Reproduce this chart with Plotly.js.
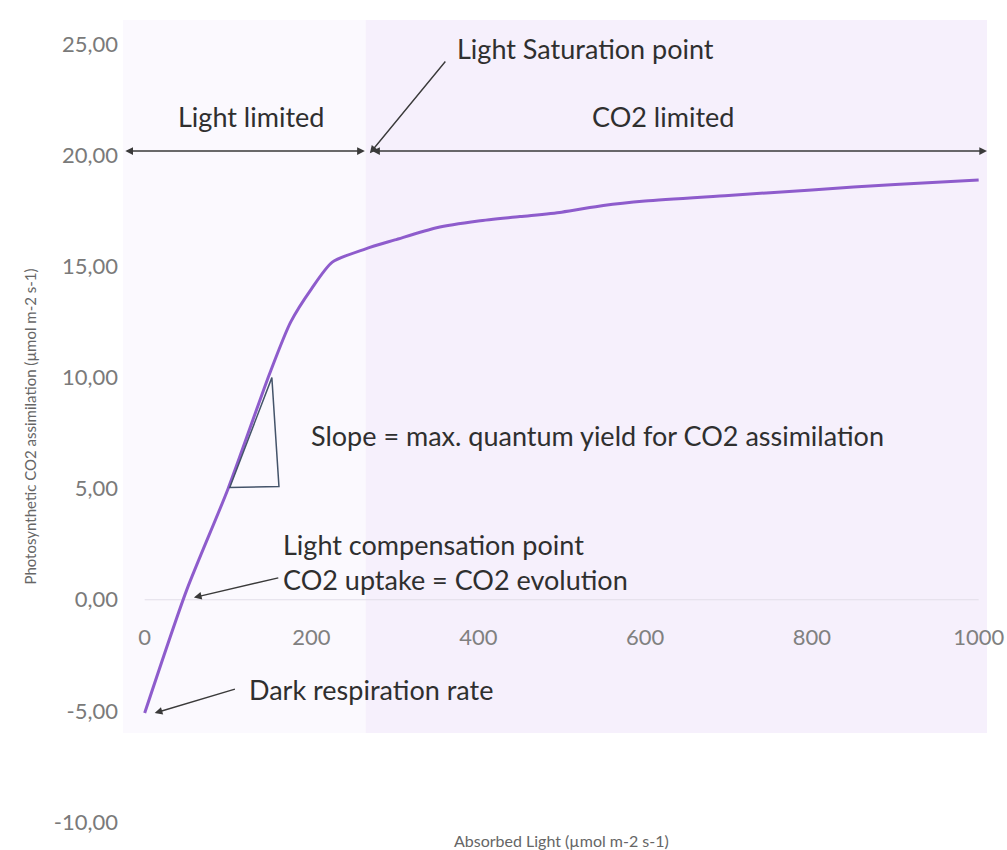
<!DOCTYPE html>
<html>
<head>
<meta charset="utf-8">
<script src="https://cdn.plot.ly/plotly-3.0.1.min.js"></script>
<style>
  html, body { margin: 0; padding: 0; background: #ffffff; }
  #chart { width: 1007px; height: 850px; }
</style>
</head>
<body>
<div id="chart"></div>
<script>
// ---- Data ----
var lightX = [0, 50, 100, 150, 175, 200, 225, 265, 300, 350, 400, 450, 500, 550, 600, 700, 800, 900, 1000];
var co2Y   = [-5.1, 0.4, 5.0, 10.2, 12.5, 14.0, 15.2, 15.8, 16.2, 16.75, 17.05, 17.25, 17.45, 17.75, 17.95, 18.2, 18.45, 18.7, 18.9];

var xTickVals = [0, 200, 400, 600, 800, 1000];
var xTickText = ["0", "200", "400", "600", "800", "1000"];
var yTickVals = [-10, -5, 0, 5, 10, 15, 20, 25];
var yTickText = ["-10,00", "-5,00", "0,00", "5,00", "10,00", "15,00", "20,00", "25,00"];

var xRange = [-26, 1010];
var yRange = [-10.5, 26.1];
var saturationX = 265;      // boundary between light limited / CO2 limited
var shadedBottom = -6.0;

var textColor = "#2f2f2f";
var arrowColor = "#3a3a3a";
var font = "Lato, 'Open Sans', sans-serif";

var trace = {
  type: "scatter",
  mode: "lines",
  x: lightX,
  y: co2Y,
  line: { color: "#8e5ccc", width: 3, shape: "spline", smoothing: 0.7 },
  hoverinfo: "x+y",
  showlegend: false
};

function txt(text, x, y, xanchor) {
  return {
    xref: "x", yref: "y", x: x, y: y, text: text, showarrow: false,
    xanchor: xanchor || "center", yanchor: "middle",
    font: { family: font, size: 27, color: textColor }
  };
}
function arrow(x, y, ax, ay, both) {
  return {
    xref: "x", yref: "y", axref: "x", ayref: "y",
    x: x, y: y, ax: ax, ay: ay, text: "", showarrow: true,
    arrowhead: 2, arrowsize: 1.1, arrowwidth: 1.4, arrowcolor: arrowColor,
    arrowside: both ? "end+start" : "end",
    startarrowhead: 2, startarrowsize: 1.1, standoff: 0, startstandoff: 0
  };
}

var annotations = [
  txt("Light Saturation point", 528, 24.8),
  txt("Light limited", 128, 21.75),
  txt("CO2 limited", 622, 21.75),
  txt("Slope = max. quantum yield for CO2 assimilation", 197, 7.4, "left"),
  txt("Light compensation point", 163, 2.5, "left"),
  txt("CO2 uptake = CO2 evolution", 163, 0.9, "left"),
  txt("Dark respiration rate", 123, -4.05, "left"),
  arrow(264, 20.2, -25, 20.2, true),
  arrow(1010, 20.2, 271, 20.2, true),
  arrow(270, 20.1, 362, 24.3, false),
  arrow(59, 0.1, 162, 1.0, false),
  arrow(12, -5.1, 110, -4.0, false),
  {
    xref: "paper", yref: "paper", x: 0.507, y: -0.009, text: "Absorbed Light (µmol m-2 s-1)",
    showarrow: false, xanchor: "center", yanchor: "middle",
    font: { family: font, size: 16, color: "#666666" }
  }
];

var shapes = [
  { type: "rect", layer: "below", xref: "x", yref: "y", x0: xRange[0], x1: saturationX, y0: shadedBottom, y1: yRange[1],
    fillcolor: "#fbf9fe", line: { width: 0 } },
  { type: "rect", layer: "below", xref: "x", yref: "y", x0: saturationX, x1: xRange[1], y0: shadedBottom, y1: yRange[1],
    fillcolor: "#f6f0fc", line: { width: 0 } },
  { type: "line", layer: "below", xref: "x", yref: "y", x0: 0, x1: 1000, y0: 0, y1: 0,
    line: { color: "#e2dee8", width: 1.2 } },
  // slope triangle
  { type: "path", xref: "x", yref: "y", path: "M 102,5.05 L 152.5,10.0 L 161,5.1 Z",
    line: { color: "#44546a", width: 1.5 }, fillcolor: "rgba(0,0,0,0)" }
];

var xPos = (0 - yRange[0]) / (yRange[1] - yRange[0]);

var layout = {
  width: 1007, height: 850,
  margin: { l: 123, r: 20, t: 20, b: 17, pad: 0 },
  paper_bgcolor: "#ffffff",
  plot_bgcolor: "rgba(0,0,0,0)",
  showlegend: false,
  font: { family: font },
  xaxis: {
    range: xRange, anchor: "free", position: xPos,
    tickmode: "array", tickvals: xTickVals, ticktext: xTickText,
    showgrid: false, zeroline: false, showline: false,
    ticks: "outside", ticklen: 18, tickcolor: "rgba(0,0,0,0)",
    tickfont: { family: font, size: 22, color: "#808080" },
    fixedrange: true
  },
  yaxis: {
    range: yRange,
    tickmode: "array", tickvals: yTickVals, ticktext: yTickText,
    showgrid: false, zeroline: false, showline: false,
    ticks: "", ticklabelstandoff: 4,
    tickfont: { family: font, size: 22, color: "#7a7a7a" },
    title: { text: "Photosynthetic CO2 assimilation (µmol m-2 s-1)", standoff: 13,
             font: { family: font, size: 15, color: "#666666" } },
    automargin: false,
    fixedrange: true
  },
  shapes: shapes,
  annotations: annotations
};

Plotly.newPlot("chart", [trace], layout, { displayModeBar: false, staticPlot: false });
</script>
</body>
</html>
